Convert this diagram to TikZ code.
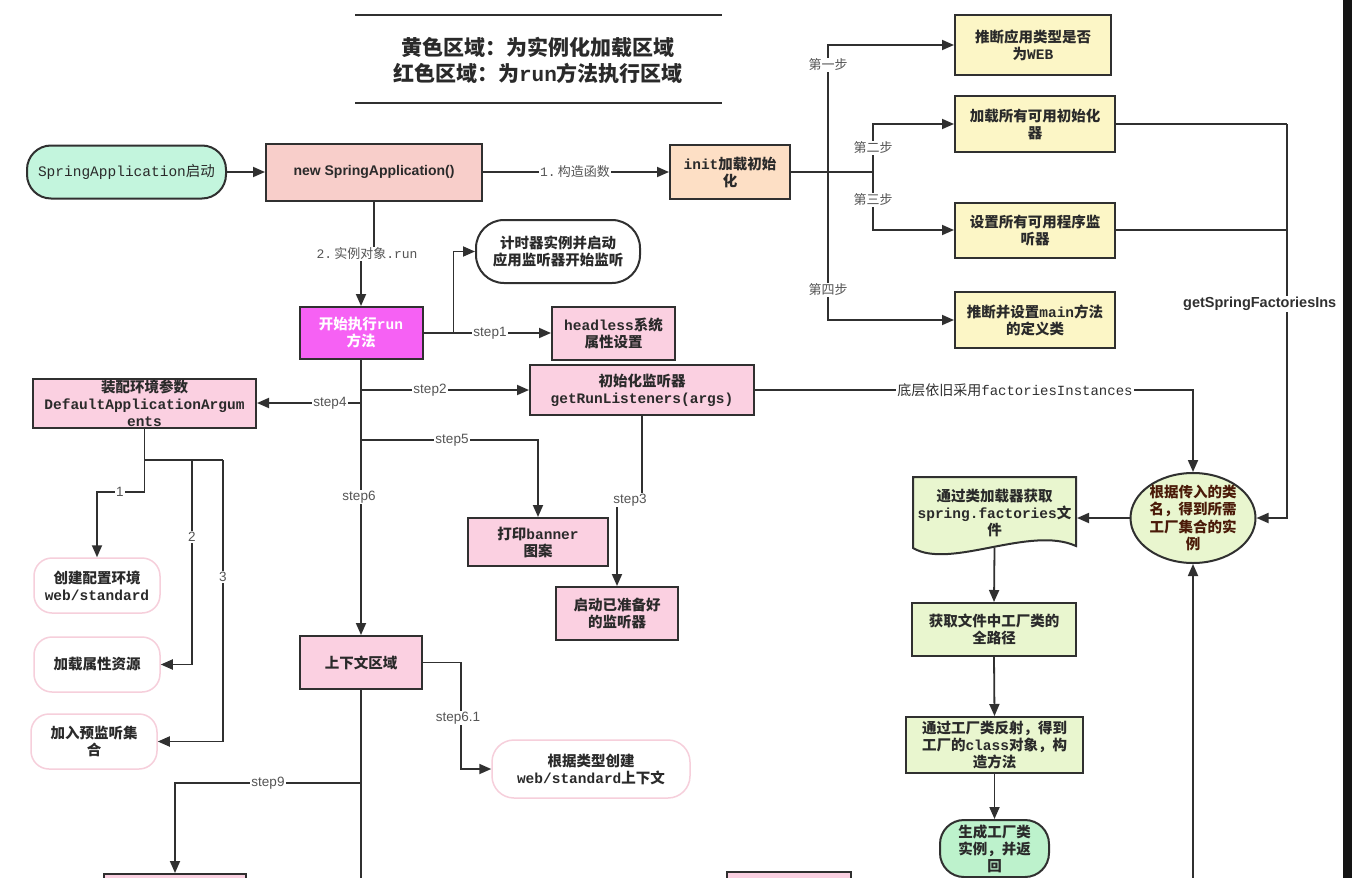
\documentclass[tikz,border=0pt]{standalone}
\usepackage{fontspec}
\setmainfont{Noto Sans CJK SC}
\newfontfamily\mn{Liberation Mono}
\newfontfamily\ls{Liberation Sans}
\usetikzlibrary{arrows.meta,shapes.geometric}

\newcommand\mt[1]{{\mn #1}}

\definecolor{linec}{HTML}{303030}
\definecolor{mint}{HTML}{C3F5DD}
\definecolor{salmon}{HTML}{F8CECA}
\definecolor{peach}{HTML}{FDDFC5}
\definecolor{ylw}{HTML}{FCF6C6}
\definecolor{pnk}{HTML}{FBD0E1}
\definecolor{mag}{HTML}{F661F4}
\definecolor{grn}{HTML}{E9F6CF}
\definecolor{grn2}{HTML}{BDF2CC}
\definecolor{pinkline}{HTML}{F6CFDB}
\definecolor{lblc}{HTML}{555555}
\definecolor{txt}{HTML}{2A2A2A}
\definecolor{elltxt}{HTML}{4A1A08}

\tikzset{
  box/.style={draw=linec, line width=2pt, align=center, inner sep=0pt,
    text=txt, font=\bfseries\fontsize{14.5}{17}\selectfont},
  ybox/.style={box, fill=ylw},
  pbox/.style={box, fill=pnk},
  gbox/.style={box, fill=grn},
  leaf/.style={box, draw=pinkline, line width=1.5pt, fill=white, rounded corners=18pt},
  conn/.style={draw=linec, line width=1.8pt},
  arr/.style={conn, -{Triangle[length=12pt,width=10pt]}},
  lbl/.style={fill=white, inner sep=1pt, text=lblc, font=\ls\fontsize{13.5}{15}\selectfont},
  lblz/.style={fill=white, inner sep=1pt, text=lblc, font=\fontsize{13}{15}\selectfont},
}

\begin{document}
\begin{tikzpicture}[x=1pt,y=-1pt]
\useasboundingbox (0,0) rectangle (1352,878);
\clip (0,0) rectangle (1352,878);
\fill[white] (0,0) rectangle (1352,878);

% heading with rules above and below
\draw[linec, line width=2pt] (355,15) -- (722,15);
\draw[linec, line width=2pt] (355,103) -- (722,103);
\node[align=center, text=txt, font=\bfseries\fontsize{21}{26}\selectfont] (title) at (538,60)
  {黄色区域：为实例化加载区域\\红色区域：为\mt{run}方法执行区域};

% construction phase
\node[box, fill=mint, rounded corners=24pt, minimum width=199pt, minimum height=53pt,
  font=\fontsize{14.5}{17}\selectfont] (start) at (126.5,172) {\mt{SpringApplication}启动};
\node[box, fill=salmon, minimum width=216pt, minimum height=57pt,
  font=\ls\bfseries\fontsize{14}{17}\selectfont] (new) at (374,172) {new SpringApplication()};
\node[box, fill=peach, minimum width=120pt, minimum height=54pt] (init) at (730,172) {\mt{init}加载初始\\化};

\node[ybox, minimum width=156pt, minimum height=60pt] (y1) at (1033,45) {推断应用类型是否\\为\mt{WEB}};
\node[ybox, minimum width=160pt, minimum height=56pt] (y2) at (1035,124) {加载所有可用初始化\\器};
\node[ybox, minimum width=160pt, minimum height=55pt] (y3) at (1035,230) {设置所有可用程序监\\听器};
\node[ybox, minimum width=160pt, minimum height=56pt] (y4) at (1035,320) {推断并设置\mt{main}方法\\的定义类};

% run phase
\node[box, fill=white, rounded corners=28pt, minimum width=164pt, minimum height=63pt] (timer) at (558,251.5)
  {计时器实例并启动\\应用监听器开始监听};
\node[box, fill=mag, text=white, minimum width=123pt, minimum height=52pt] (run) at (361,333) {开始执行\mt{run}\\方法};
\node[pbox, minimum width=123pt, minimum height=53pt] (headless) at (613.5,333) {\mt{headless}系统\\属性设置};
\node[pbox, minimum width=224pt, minimum height=50pt] (initl) at (642,390) {初始化监听器\\\mt{getRunListeners(args)}};
\node[pbox, minimum width=223pt, minimum height=49pt] (env) at (144.5,403)
  {装配环境参数\\\mt{DefaultApplicationArgum}\\\mt{ents}};
\node[pbox, minimum width=140pt, minimum height=48pt] (banner) at (538,542) {打印\mt{banner}\\图案};
\node[pbox, minimum width=122pt, minimum height=53pt] (started) at (617,613.5) {启动已准备好\\的监听器};
\node[pbox, minimum width=122pt, minimum height=53pt] (ctx) at (361,662.5) {上下文区域};

\node[leaf, minimum width=126pt, minimum height=55pt] (create) at (97,585.5) {创建配置环境\\\mt{web/standard}};
\node[leaf, minimum width=126pt, minimum height=55pt] (load) at (97,664.5) {加载属性资源};
\node[leaf, minimum width=126pt, minimum height=55pt] (join) at (94,741.5) {加入预监听集\\合};
\node[leaf, minimum width=198pt, minimum height=58pt, rounded corners=22pt] (ctxtype) at (591,769)
  {根据类型创建\\\mt{web/standard}上下文};

\node[pbox, minimum width=142pt, minimum height=40pt] (part1) at (175,894) {};
\node[pbox, minimum width=124pt, minimum height=40pt] (part2) at (789,892) {};

% factory loading
\node[draw=linec, line width=2pt, fill=grn, ellipse, align=center, inner xsep=0pt, inner ysep=-3pt,
  minimum width=125pt, minimum height=90pt, text=elltxt, font=\bfseries\fontsize{14.5}{17.5}\selectfont]
  (ell) at (1193,518) {根据传入的类\\名，得到所需\\工厂集合的实\\例};
\filldraw[fill=grn, draw=linec, line width=2pt]
  (913,477) -- (1076,477) -- (1076,546) .. controls (1030,525) and (950,570) .. (913,548) -- cycle;
\node[box, draw=none, fill=none, minimum width=163pt, minimum height=71pt] (doc) at (994.5,512.5)
  {通过类加载器获取\\\mt{spring.factories}文\\件};
\coordinate (docb) at (994.5,548);
\node[gbox, minimum width=164pt, minimum height=53pt] (path) at (994,629.5) {获取文件中工厂类的\\全路径};
\node[gbox, minimum width=177pt, minimum height=56pt] (reflect) at (994.5,745) {通过工厂类反射，得到\\工厂的\mt{class}对象，构\\造方法};
\node[box, fill=grn2, rounded corners=24pt, minimum width=109pt, minimum height=57pt] (gen) at (994.5,848.5)
  {生成工厂类\\实例，并返\\回};

% junction points
\coordinate (j1) at (828,172);
\coordinate (j2) at (873,172);
\coordinate (gs) at (1287,124);
\coordinate (b2) at (361,390);
\coordinate (b4) at (361,403);
\coordinate (b5) at (361,440);
\coordinate (b9) at (361,783);
\coordinate (cb) at (361,884);
\coordinate (ub) at (1193,884);
\coordinate (ej) at (144.5,460);
\coordinate (e2) at (192,460);
\coordinate (e3) at (223,460);

% connectors
\draw[arr] (start.east) -- (new.west);
\draw[arr] (new.east) -- (init.west);
\draw[conn, line width=2.6pt] (init.east) -- (j2);
\draw[arr] (j1) |- (y1.west);
\draw[arr] (j1) |- (y4.west);
\draw[arr] (j2) |- (y2.west);
\draw[arr] (j2) |- (y3.west);
\draw[conn] (y2.east) -- (gs);
\draw[conn] (y3.east) -- (gs |- y3.east);
\draw[arr] (gs) |- (ell.east);

\draw[arr] (new.south) -- ++(0,54) -| (run.north);
\draw[arr] (run.east) -- ++(30,0) |- (timer.west);
\draw[arr] (run.east) -- (headless.west);
\draw[arr] (run.south) -- (ctx.north);
\draw[arr] (b2) -- (initl.west);
\draw[arr] (b4) -- (env.east);
\draw[arr] (b5) -| (banner.north);
\draw[arr] (initl.south) -- ++(0,85) -| (started.north);
\draw[arr] (initl.east) -| (ell.north);

\draw[conn] (env.south) -- (ej) -- (e3);
\draw[arr] (ej) -- ++(0,32) -| (create.north);
\draw[arr] (e2) |- (load.east);
\draw[arr] (e3) |- (join.east);

\draw[arr] (ctx.east) -- ++(38,0) |- (ctxtype.west);
\draw[conn] (ctx.south) -- (cb);
\draw[arr] (b9) -| (part1.north);

\draw[arr] (ell.west) -- (doc.east |- ell.west);
\draw[arr] (docb) -- (path.north);
\draw[arr] (path.south) -- (reflect.north);
\draw[arr] (reflect.south) -- (gen.north);
\draw[arr] (ub) -- (ell.south);

% connector labels
\node[lblz] (l1) at (575,172) {\mt{1.}\,构造函数};
\node[lblz] (l2) at (367,254) {\mt{2.}\,实例对象\mt{.run}};
\node[lblz] (s1) at (828,65) {第一步};
\node[lblz] (s4) at (828,290) {第四步};
\node[lblz] (s2) at (873,148) {第二步};
\node[lblz] (s3) at (873,200) {第三步};
\node[lbl] (st1) at (490,333) {step1};
\node[lbl] (st2) at (430,390) {step2};
\node[lbl] (st4) at (330,403) {step4};
\node[lbl] (st5) at (452,440) {step5};
\node[lbl] (st6) at (359,497) {step6};
\node[lbl] (st3) at (630,500) {step3};
\node[lbl] (st61) at (458,718) {step6.1};
\node[lbl] (st9) at (268,783) {step9};
\node[lbl] (n1) at (120,492) {1};
\node[lbl] (n2) at (192,537) {2};
\node[lbl] (n3) at (223,577) {3};
\node[fill=white, inner sep=1pt, text=linec, font=\fontsize{14}{16}\selectfont] (lf) at (1015,390)
  {底层依旧采用\mt{factoriesInstances}};
\node[fill=white, inner sep=1pt, anchor=west, text=linec, font=\ls\bfseries\fontsize{14.5}{16}\selectfont]
  (lg) at (1182,304) {getSpringFactoriesIns};

% dark strip along the right edge
\fill[black!92] (1343,0) rectangle (1352,878);
\end{tikzpicture}
\end{document}
